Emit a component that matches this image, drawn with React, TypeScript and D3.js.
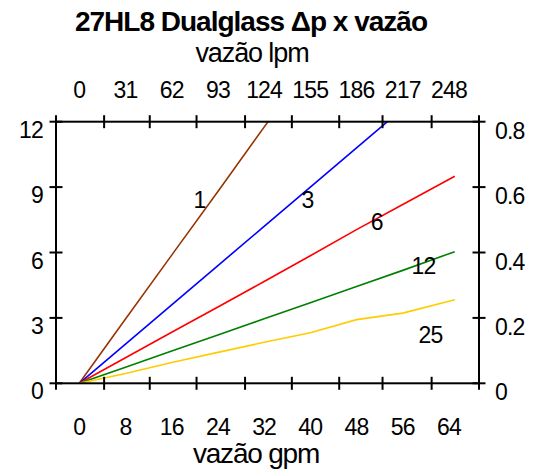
"use client";

// react
import { useEffect, useRef } from "react";

// d3
import * as d3 from "d3";

// data (x in gpm, y in mca)
const gpm = [0, 8, 16, 24, 32, 40, 48, 56, 65];
const serie1 = [0, 2.95, 5.88, 8.8, 11.75, 14.7];
const serie3 = [0, 1.8, 3.6, 5.4, 7.2, 9.0, 10.8, 12.6];
const serie6 = [0, 1.17, 2.34, 3.5, 4.67, 5.85, 7.05, 8.2, 9.5];
const serie12 = [0, 0.74, 1.48, 2.22, 2.96, 3.7, 4.44, 5.18, 6.04];
const serie25 = [0, 0.45, 0.95, 1.42, 1.88, 2.32, 2.92, 3.22, 3.83];

const series = [
  { name: "1", values: serie1, color: "#993300", label: [20.8, 8.4] },
  { name: "3", values: serie3, color: "#0000ff", label: [39.5, 8.4] },
  { name: "6", values: serie6, color: "#ff0000", label: [51.5, 7.4] },
  { name: "12", values: serie12, color: "#008000", label: [59.6, 5.4] },
  { name: "25", values: serie25, color: "#ffcc00", label: [60.8, 2.2] },
];

const gpmTicks = [0, 8, 16, 24, 32, 40, 48, 56, 64];
const lpmTicks = [0, 31, 62, 93, 124, 155, 186, 217, 248];
const minorTicks = [4.3, 12.2, 20.3, 28.7, 36.8, 45, 52.5, 61];
const leftTicks = [0, 3, 6, 9, 12];
const rightTicks = [0, 0.2, 0.4, 0.6, 0.8];

const FONT = "'Liberation Sans', Arial, sans-serif";

export default function App() {
  const ref = useRef<SVGSVGElement>(null);

  useEffect(() => {
    if (!ref.current) return;
    const svg = d3.select(ref.current);
    svg.selectAll("*").remove();

    const W = 539;
    const H = 471;
    const L = 56;
    const R = 479;
    const T = 121.7;
    const B = 383.3;

    const x = d3.scaleLinear().domain([-4.03, 69.2]).range([L, R]);
    const xTop = d3
      .scaleLinear()
      .domain([-4.03 * 3.875, 69.2 * 3.875])
      .range([L, R]);
    const y = d3.scaleLinear().domain([0, 12]).range([B, T]);
    const yR = d3.scaleLinear().domain([0, 0.8]).range([B, T]);

    svg.attr("width", W).attr("height", H).attr("viewBox", `0 0 ${W} ${H}`);

    svg
      .append("defs")
      .append("clipPath")
      .attr("id", "plot")
      .append("rect")
      .attr("x", L)
      .attr("y", T)
      .attr("width", R - L)
      .attr("height", B - T);

    // Lines
    const line = d3
      .line<number>()
      .x((_, i) => x(gpm[i]))
      .y((d) => y(d));

    const g = svg.append("g").attr("clip-path", "url(#plot)");
    series.forEach((s) => {
      g.append("path")
        .attr("d", line(s.values))
        .attr("fill", "none")
        .attr("stroke", s.color)
        .attr("stroke-width", 1.6);
    });

    // Frame
    svg
      .append("rect")
      .attr("x", L)
      .attr("y", T)
      .attr("width", R - L)
      .attr("height", B - T)
      .attr("fill", "none")
      .attr("stroke", "#000")
      .attr("stroke-width", 2);

    // Cross ticks
    const tk = 6.5;
    const hx = [x.domain()[0], ...minorTicks, x.domain()[1]];
    [T, B].forEach((yy) => {
      svg
        .append("g")
        .selectAll("line")
        .data(hx)
        .join("line")
        .attr("x1", (d) => x(d))
        .attr("x2", (d) => x(d))
        .attr("y1", yy - tk)
        .attr("y2", yy + tk)
        .attr("stroke", "#000")
        .attr("stroke-width", 2);
    });
    svg
      .append("g")
      .selectAll("line")
      .data(leftTicks)
      .join("line")
      .attr("x1", L - tk)
      .attr("x2", L + tk)
      .attr("y1", (d) => y(d))
      .attr("y2", (d) => y(d))
      .attr("stroke", "#000")
      .attr("stroke-width", 2);
    svg
      .append("g")
      .selectAll("line")
      .data(rightTicks)
      .join("line")
      .attr("x1", R - tk)
      .attr("x2", R + tk)
      .attr("y1", (d) => yR(d))
      .attr("y2", (d) => yR(d))
      .attr("stroke", "#000")
      .attr("stroke-width", 2);

    const text = (
      xx: number,
      yy: number,
      s: string,
      anchor = "middle",
      size = 23,
      weight = "normal",
      spacing = -0.8,
    ) =>
      svg
        .append("text")
        .attr("x", xx)
        .attr("y", yy)
        .attr("text-anchor", anchor)
        .attr("font-family", FONT)
        .attr("font-size", size)
        .attr("font-weight", weight)
        .attr("letter-spacing", spacing)
        .attr("fill", "#000")
        .text(s);

    // Tick labels
    gpmTicks.forEach((d) => text(x(d), B + 52, String(d)));
    lpmTicks.forEach((d) => text(xTop(d), T - 24, String(d)));
    leftTicks.forEach((d) => text(L - 13, y(d) + 16, String(d), "end"));
    rightTicks.forEach((d) =>
      text(R + 16, yR(d) + 17, d === 0 ? "0" : String(d), "start"),
    );

    // Series labels
    series.forEach((s) =>
      text(x(s.label[0]), y(s.label[1]) + 8, s.name, "middle", 23),
    );

    // Titles
    text(251, 31, "27HL8 Dualglass Δp x vazão", "middle", 28, "bold", -1);
    text(252, 62, "vazão lpm", "middle", 27, "normal", -1.1);
    text(256, 463, "vazão gpm", "middle", 28, "normal", -1.2);
  }, []);

  return (
    <svg
      ref={ref}
      style={{ position: "absolute", left: 0, top: 0, display: "block" }}
    />
  );
}
